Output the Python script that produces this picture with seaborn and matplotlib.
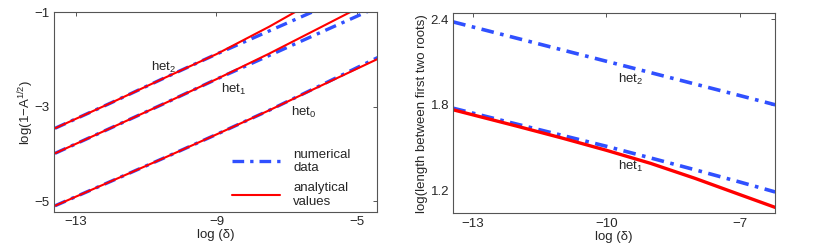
import numpy as np
import pandas as pd
import matplotlib
matplotlib.use("Agg")
import matplotlib.pyplot as plt
from matplotlib.lines import Line2D
import seaborn as sns

# ---- Left panel data ----
x_left = [-13.6, -12.0, -10.5, -9.0, -7.5, -6.0, -4.4]
het0_num = [-5.10, -4.58, -4.09, -3.59, -3.08, -2.54, -1.96]
het0_ana = [-5.10, -4.58, -4.09, -3.59, -3.08, -2.55, -1.99]
het1_num = [-3.99, -3.45, -2.94, -2.42, -1.92, -1.42, -0.89]
het1_ana = [-3.99, -3.45, -2.94, -2.42, -1.88, -1.31, -0.70]
het2_num = [-3.46, -2.92, -2.40, -1.89, -1.40, -0.91, -0.40]
het2_ana = [-3.46, -2.92, -2.40, -1.89, -1.31, -0.68, 0.00]

# ---- Right panel data ----
x_right = [-13.44, -12.0, -11.0, -10.0, -9.0, -8.0, -7.0, -6.2]
r_het2_num = [2.38, 2.265, 2.185, 2.105, 2.025, 1.945, 1.865, 1.80]
r_het1_num = [1.776, 1.664, 1.587, 1.51, 1.428, 1.345, 1.26, 1.19]
r_het1_ana = [1.765, 1.650, 1.568, 1.482, 1.390, 1.285, 1.172, 1.082]

left_xticks = [-13, -9, -5]
left_yticks = [-5, -3, -1]
right_xticks = [-13, -10, -7]
right_yticks = [1.2, 1.8, 2.4]

sns.set_theme(style="white")
plt.rcParams['font.family'] = ['Liberation Sans', 'DejaVu Sans']
plt.rcParams['mathtext.fontset'] = 'custom'
plt.rcParams['mathtext.rm'] = 'Liberation Sans'
plt.rcParams['mathtext.it'] = 'Liberation Sans:italic'

BLUE = '#3050ff'
RED = '#ff0000'
FS = 9.5
DASH = (0, (3.5, 1.8, 1.0, 1.8))

fig = plt.figure(figsize=(8.3, 2.47), dpi=100)
ax1 = fig.add_axes([0.065, 0.142, 0.389, 0.809])
ax2 = fig.add_axes([0.546, 0.136, 0.388, 0.810])

def style(ax):
    for s in ax.spines.values():
        s.set_color('#555555')
        s.set_linewidth(0.8)
    ax.tick_params(direction='in', top=True, right=True, length=3,
                   width=0.7, color='#555555', labelsize=FS, pad=3)

# Left
for yn, ya in [(het0_num, het0_ana), (het1_num, het1_ana), (het2_num, het2_ana)]:
    sns.lineplot(x=x_left, y=yn, ax=ax1, color=BLUE, lw=2.4, ls=DASH)
    sns.lineplot(x=x_left, y=ya, ax=ax1, color=RED, lw=1.5)
ax1.set_xlim(-13.63, -4.43)
ax1.set_ylim(-5.23, -1)
ax1.set_xticks(left_xticks)
ax1.set_yticks(left_yticks)
ax1.set_xticklabels(['\u221213', '\u22129', '\u22125'])
ax1.set_yticklabels(['\u22125', '\u22123', '\u22121'])
ax1.text(-10.5, -2.18, 'het$_2$', fontsize=FS, ha='center', va='center')
ax1.text(-8.5, -2.63, 'het$_1$', fontsize=FS, ha='center', va='center')
ax1.text(-6.5, -3.13, 'het$_0$', fontsize=FS, ha='center', va='center')
ax1.set_xlabel('log (\u03b4)', fontsize=FS, labelpad=1)
ax1.set_ylabel('log(1\u2212A$^{1/2}$)', fontsize=FS, labelpad=-1)
h = [Line2D([], [], color=BLUE, lw=2.4, ls=DASH),
     Line2D([], [], color=RED, lw=1.5)]
ax1.legend(h, ['numerical\ndata', 'analytical\nvalues'], loc='lower right',
           bbox_to_anchor=(0.955, -0.04), frameon=False, fontsize=FS,
           handlelength=3.6, handletextpad=1.0, labelspacing=0.6)
style(ax1)

# Right
sns.lineplot(x=x_right, y=r_het2_num, ax=ax2, color=BLUE, lw=2.6, ls=DASH)
sns.lineplot(x=x_right, y=r_het1_num, ax=ax2, color=BLUE, lw=2.6, ls=DASH)
sns.lineplot(x=x_right, y=r_het1_ana, ax=ax2, color=RED, lw=2.4)
ax2.set_xlim(-13.44, -6.2)
ax2.set_ylim(1.04, 2.44)
ax2.set_xticks(right_xticks)
ax2.set_yticks(right_yticks)
ax2.set_xticklabels(['\u221213', '\u221210', '\u22127'])
ax2.set_yticklabels(['1.2', '1.8', '2.4'])
ax2.text(-9.45, 1.975, 'het$_2$', fontsize=FS, ha='center', va='center')
ax2.text(-9.45, 1.37, 'het$_1$', fontsize=FS, ha='center', va='center')
ax2.set_xlabel('log (\u03b4)', fontsize=FS, labelpad=1)
ax2.set_ylabel('log(length between first two roots)', fontsize=FS, labelpad=2)
style(ax2)

fig.savefig('out.png', dpi=100)
